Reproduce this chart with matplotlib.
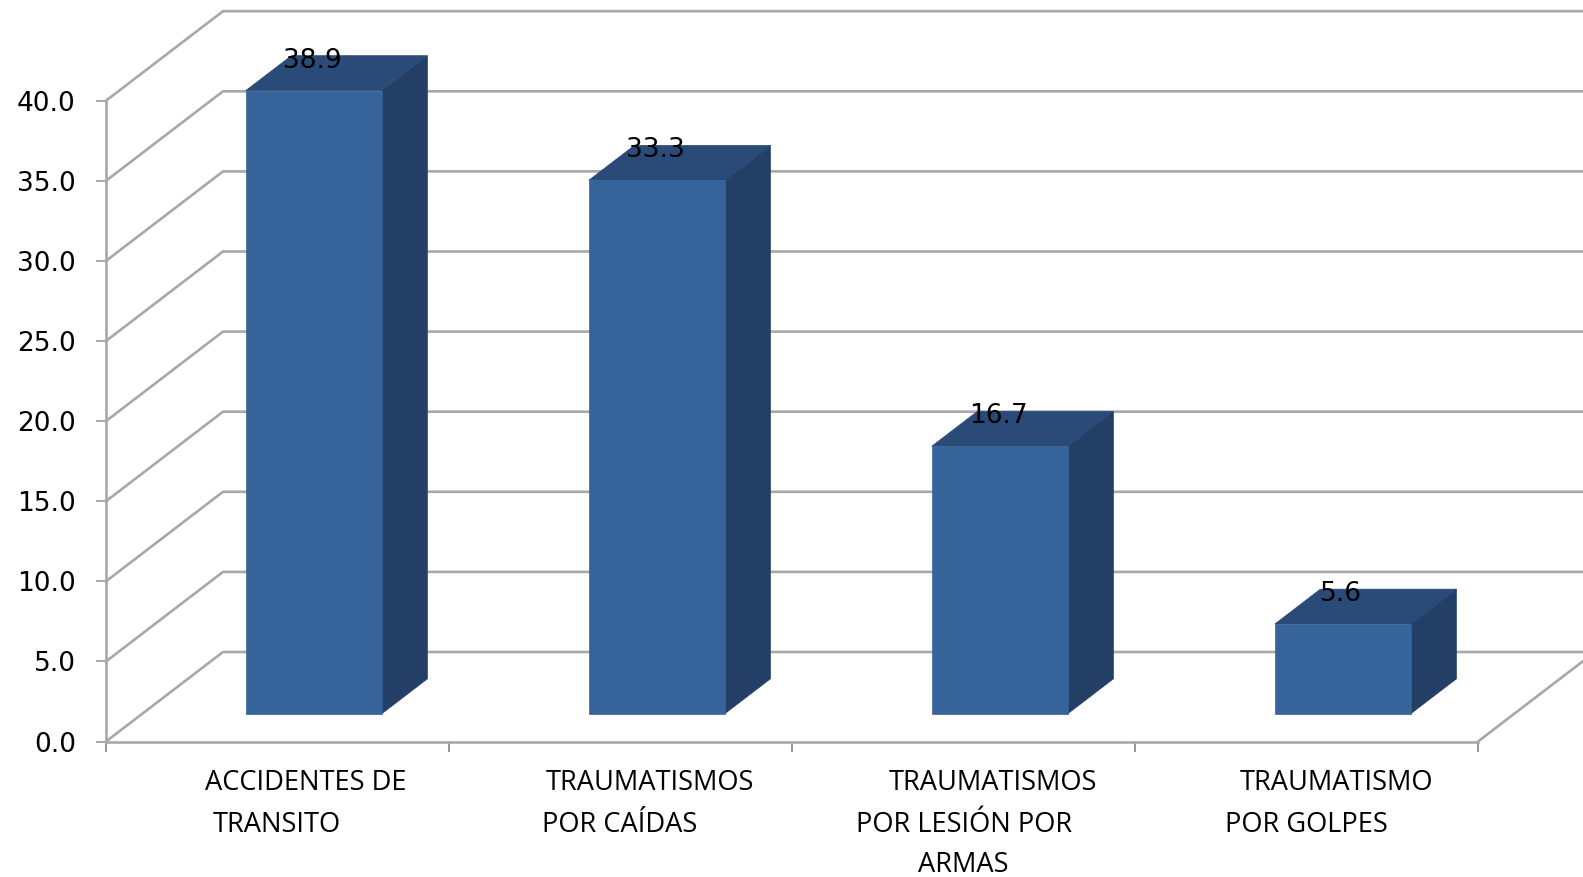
import numpy as np
import matplotlib
matplotlib.use("Agg")
import matplotlib.pyplot as plt
from matplotlib.patches import Polygon

# datos
categorias = [
    ["ACCIDENTES DE", "TRANSITO"],
    ["TRAUMATISMOS", "POR CAÍDAS"],
    ["TRAUMATISMOS", "POR LESIÓN POR", "ARMAS"],
    ["TRAUMATISMO", "POR GOLPES"],
]
valores = [38.9, 33.3, 16.7, 5.6]
ticks_y = [0, 5, 10, 15, 20, 25, 30, 35, 40]

# geometria en pixeles de la imagen
W, H = 1583, 877
X0, Y0 = 106, 741.5
PX_CAT = 343.0
PX_VAL = 16.02
DX, DY = 117.0, 89.5

GRIS = "#A8A8A8"
FRENTE = "#37639B"
LADO = "#243F66"
TECHO = "#2A4B78"

fig = plt.figure(figsize=(W / 100, H / 100), dpi=100, facecolor="white")
ax = fig.add_axes([0, 0, 1, 1])
ax.set_xlim(-X0 / PX_CAT, (W - X0) / PX_CAT)
ax.set_ylim((Y0 - H) / PX_VAL, Y0 / PX_VAL)


def proy(x, y, d):
    # d = profundidad, 0 frente, 1 fondo
    return x + d * DX / PX_CAT, y + d * DY / PX_VAL


# paredes: piso/lado izquierdo y fondo
for t in ticks_y:
    xa, ya = proy(0, t, 0)
    xb, yb = proy(0, t, 1)
    xc, yc = proy(len(valores), t, 1)
    ax.plot([xa, xb, xc], [ya, yb, yc], color=GRIS, lw=1.9, zorder=1,
            solid_joinstyle="miter")

xb, yb = proy(len(valores), 0, 1)
ax.plot([len(valores), xb], [0, yb], color=GRIS, lw=1.9, zorder=1)

# barras
ancho = 136 / PX_CAT
d1, d2 = 0.31, 0.70
for i, v in enumerate(valores):
    izq = i + 0.5 - ancho / 2
    der = izq + ancho
    p = [proy(izq, 0, d1), proy(der, 0, d1), proy(der, v, d1), proy(izq, v, d1)]
    q = [proy(izq, 0, d2), proy(der, 0, d2), proy(der, v, d2), proy(izq, v, d2)]
    ax.add_patch(Polygon([p[1], q[1], q[2], p[2]], closed=True, fc=LADO, ec=LADO, lw=0.5, zorder=2))
    ax.add_patch(Polygon([p[3], p[2], q[2], q[3]], closed=True, fc=TECHO, ec=TECHO, lw=0.5, zorder=2))
    ax.add_patch(Polygon(p, closed=True, fc=FRENTE, ec=FRENTE, lw=0.5, zorder=3))

    cx, cy = proy((izq + der) / 2, v, d1)
    ax.annotate(f"{v:.1f}", xy=(cx, cy), xytext=(-1, 21.5), textcoords="offset points",
                ha="center", va="center", fontsize=19, color="black", zorder=5)

# ejes
for s in ["top", "right"]:
    ax.spines[s].set_visible(False)
ax.spines["left"].set_position(("data", 0))
ax.spines["left"].set_bounds(0, 40)
ax.spines["bottom"].set_position(("data", 0))
ax.spines["bottom"].set_bounds(0, len(valores))
for s in ["left", "bottom"]:
    ax.spines[s].set_color(GRIS)
    ax.spines[s].set_linewidth(1.9)

ax.set_yticks(ticks_y)
ax.set_yticklabels([f"{t:.1f}" for t in ticks_y], fontsize=19, color="black")
ax.set_xticks(np.arange(len(valores) + 1))
ax.set_xticklabels([])
ax.tick_params(axis="y", length=7.2, width=1.4, color=GRIS, pad=14.5)
ax.tick_params(axis="x", length=7.2, width=1.3, color="#8C8C8C", pad=0)

# etiquetas de categoria, cada renglon con su propio centro
centros = [[306, 277], [650, 620], [993, 964, 963], [1336, 1306]]
filas_y = [783, 824.5, 865]
for lineas, cs in zip(categorias, centros):
    for linea, c, fy in zip(lineas, cs, filas_y):
        ax.text((c - X0) / PX_CAT, (Y0 - fy) / PX_VAL, linea, ha="center", va="center",
                fontsize=19.6, family="Open Sans", color="black")

fig.savefig("out.png", dpi=100, facecolor="white")
plt.close(fig)
